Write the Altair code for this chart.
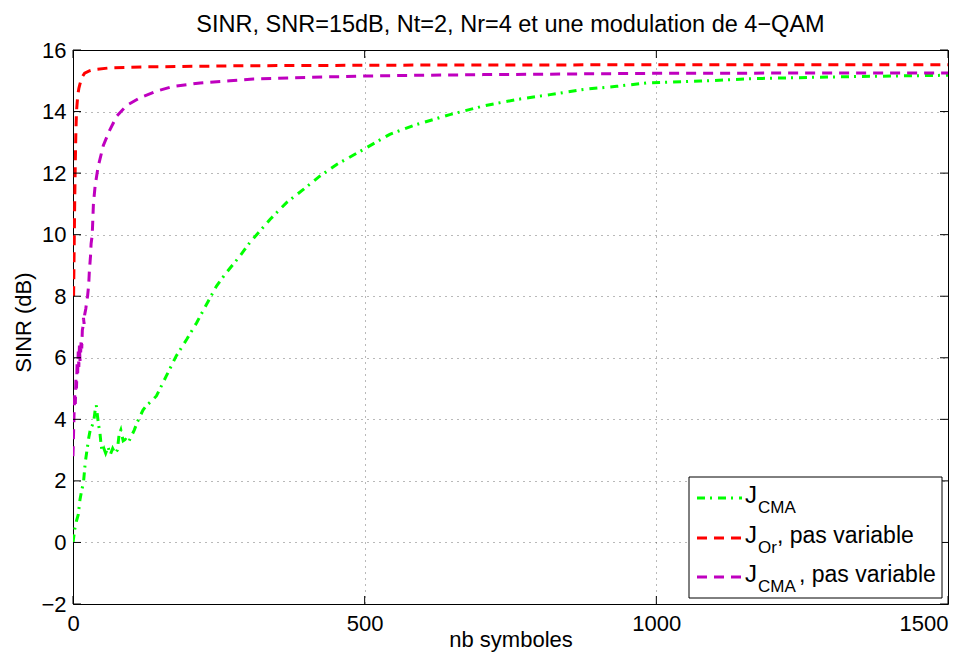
import altair as alt
import pandas as pd

# ---------------- data ----------------
green_x = [0, 3, 6, 9, 12, 15, 18, 21, 24, 27, 30, 33, 36, 38, 40, 42, 44, 46, 48, 50,
           53, 56, 60, 64, 68, 72, 76, 79, 82, 86, 90, 95, 100, 105, 110, 115, 120, 126,
           135, 143, 160, 177, 195, 212, 229, 246, 263, 286, 303, 338, 366, 395, 423,
           452, 498, 543, 589, 646, 703, 760, 818, 875, 932, 983, 1075, 1166, 1315, 1500]
green_y = [0.0, 0.43, 0.7, 0.9, 1.4, 1.7, 1.95, 2.6, 3.0, 3.4, 3.7, 3.8, 4.0, 4.3, 4.45,
           4.1, 3.8, 3.6, 3.2, 2.95, 3.05, 2.9, 3.1, 2.85, 3.05, 2.9, 3.0, 3.5, 3.65, 3.3,
           3.35, 3.25, 3.45, 3.65, 3.9, 4.1, 4.3, 4.45, 4.6, 4.76, 5.41, 6.06, 6.6, 7.14,
           7.74, 8.33, 8.77, 9.3, 9.74, 10.5, 11.04, 11.47, 11.9, 12.28, 12.77, 13.26,
           13.58, 13.9, 14.18, 14.39, 14.55, 14.72, 14.82, 14.93, 14.99, 15.07, 15.13, 15.18]

red_x = [1, 2, 3, 4, 5, 6, 8, 10, 12, 15, 20, 28, 35, 63, 120, 300, 600, 1000, 1500]
red_y = [8.0, 9.6, 11.2, 12.4, 13.4, 14.0, 14.5, 14.75, 14.9, 15.1, 15.25, 15.32, 15.36,
         15.42, 15.45, 15.49, 15.51, 15.52, 15.52]

mag_x = [0, 1, 2, 3, 4, 5, 6, 7, 8, 9, 10, 11, 12, 13, 14, 15, 16, 17, 18, 19, 20, 22, 24,
         25, 27, 28, 30, 31, 33, 35, 38, 43, 52, 63, 75, 92, 115, 143, 172, 218, 269, 309,
         400, 492, 600, 703, 850, 972, 1200, 1500]
mag_y = [2.8, 3.6, 4.3, 4.8, 4.5, 5.3, 5.0, 5.8, 5.5, 6.2, 5.7, 6.4, 5.9, 6.1, 6.6, 6.3,
         6.9, 7.0, 7.3, 7.1, 7.4, 7.6, 7.9, 8.0, 8.4, 8.8, 9.3, 9.7, 10.0, 11.0, 11.6, 12.2,
         12.9, 13.4, 13.85, 14.2, 14.45, 14.66, 14.82, 14.93, 15.0, 15.06, 15.11, 15.15,
         15.18, 15.2, 15.22, 15.24, 15.25, 15.25]

x_ticks = [0, 500, 1000, 1500]
y_ticks = [-2, 0, 2, 4, 6, 8, 10, 12, 14, 16]

title_text = "SINR, SNR=15dB, Nt=2, Nr=4 et une modulation de 4\u2212QAM"
x_title = "nb symboles"
y_title = "SINR (dB)"

# ---------------- layout constants ----------------
W, H = 875, 554
FONT = "Liberation Sans"
GREEN, RED, MAG = "#00ff00", "#ff0000", "#bf00bf"
LW = 3

xs = alt.Scale(domain=[0, 1500], nice=False, zero=False)
ys = alt.Scale(domain=[-2, 16], nice=False, zero=False)

x_label_align = {"condition": {"test": "datum.value == 1500", "value": "right"},
                 "value": "center"}


def series(xv, yv, color, dash):
    df = pd.DataFrame({"x": xv, "y": yv})
    return alt.Chart(df).mark_line(
        color=color, strokeWidth=LW, strokeDash=dash, clip=True
    ).encode(
        x=alt.X("x:Q", scale=xs,
                axis=alt.Axis(values=x_ticks, title=x_title, grid=True, ticks=False,
                              domain=False, labelPadding=9, format="d", labelFlush=False,
                              labelOverlap=False, labelAlign=x_label_align,
                              titleBaseline="alphabetic", titleY=42)),
        y=alt.Y("y:Q", scale=ys,
                axis=alt.Axis(values=y_ticks, title=y_title, grid=True, ticks=False,
                              domain=False, labelPadding=7, format="d", labelOverlap=False,
                              titleBaseline="alphabetic", titleX=-43, titleY=272)),
        order="x:Q",
    )


green = series(green_x, green_y, GREEN, [8, 5, 2, 6])
red = series(red_x, red_y, RED, [10, 7])
mag = series(mag_x, mag_y, MAG, [10, 7])

# inward tick marks (Matlab style), positioned through the scales
xt = pd.DataFrame({"v": x_ticks})
yt = pd.DataFrame({"v": y_ticks})
tick_b = alt.Chart(xt).mark_rule(color="black", strokeWidth=1).encode(
    x=alt.X("v:Q", scale=xs), y=alt.value(H), y2=alt.value(H - 8))
tick_t = alt.Chart(xt).mark_rule(color="black", strokeWidth=1).encode(
    x=alt.X("v:Q", scale=xs), y=alt.value(0), y2=alt.value(8))
tick_l = alt.Chart(yt).mark_rule(color="black", strokeWidth=1).encode(
    y=alt.Y("v:Q", scale=ys), x=alt.value(0), x2=alt.value(8))
tick_r = alt.Chart(yt).mark_rule(color="black", strokeWidth=1).encode(
    y=alt.Y("v:Q", scale=ys), x=alt.value(W), x2=alt.value(W - 8))

one = pd.DataFrame({"k": [0]})

# chart title as a text layer above the plot
title = alt.Chart(one).mark_text(
    text=title_text, font=FONT, fontSize=23.5, align="center", baseline="alphabetic",
    color="black"
).encode(x=alt.value(W / 2), y=alt.value(-18))

# ---------------- custom legend (for subscripts) ----------------
LX0, LX1, LY0, LY1 = 616, 869, 427, 548
box = alt.Chart(one).mark_rect(fill="white", stroke="black", strokeWidth=1).encode(
    x=alt.value(LX0), x2=alt.value(LX1), y=alt.value(LY0), y2=alt.value(LY1))

rows_y = [448, 488, 527]
colors = [GREEN, RED, MAG]
dashes = [[8, 5, 2, 6], [10, 7], [10, 7]]
subs = ["CMA", "Or", "CMA"]
rests = ["", ", pas variable", ", pas variable"]
rest_x = [0, 704, 726]

leg_layers = [box]
for i in range(3):
    ry = rows_y[i]
    leg_layers.append(
        alt.Chart(one).mark_rule(color=colors[i], strokeWidth=LW, strokeDash=dashes[i]).encode(
            x=alt.value(624), x2=alt.value(669), y=alt.value(ry)))
    leg_layers.append(
        alt.Chart(one).mark_text(text="J", font=FONT, fontSize=24, align="left",
                                 baseline="alphabetic", color="black").encode(
            x=alt.value(672), y=alt.value(ry + 5)))
    leg_layers.append(
        alt.Chart(one).mark_text(text=subs[i], font=FONT, fontSize=17, align="left",
                                 baseline="alphabetic", color="black").encode(
            x=alt.value(685), y=alt.value(ry + 15)))
    if rests[i]:
        leg_layers.append(
            alt.Chart(one).mark_text(text=rests[i], font=FONT, fontSize=23, align="left",
                                     baseline="alphabetic", color="black").encode(
                x=alt.value(rest_x[i]), y=alt.value(ry + 5)))

chart = alt.layer(
    green, red, mag, tick_b, tick_t, tick_l, tick_r, title, *leg_layers
).properties(
    width=W, height=H,
    autosize=alt.AutoSizeParams(type="none"),
    padding={"left": 65, "top": 42, "right": 20, "bottom": 49},
).configure_view(
    stroke="black", strokeWidth=1
).configure_axis(
    labelFont=FONT, titleFont=FONT, labelFontSize=22, titleFontSize=22,
    labelColor="black", titleColor="black", titleFontWeight="normal",
    gridColor="#000000", gridDash=[1, 5], gridOpacity=0.55, gridWidth=1,
)

chart.save("out.html", embed_options={"renderer": "svg", "actions": False})
